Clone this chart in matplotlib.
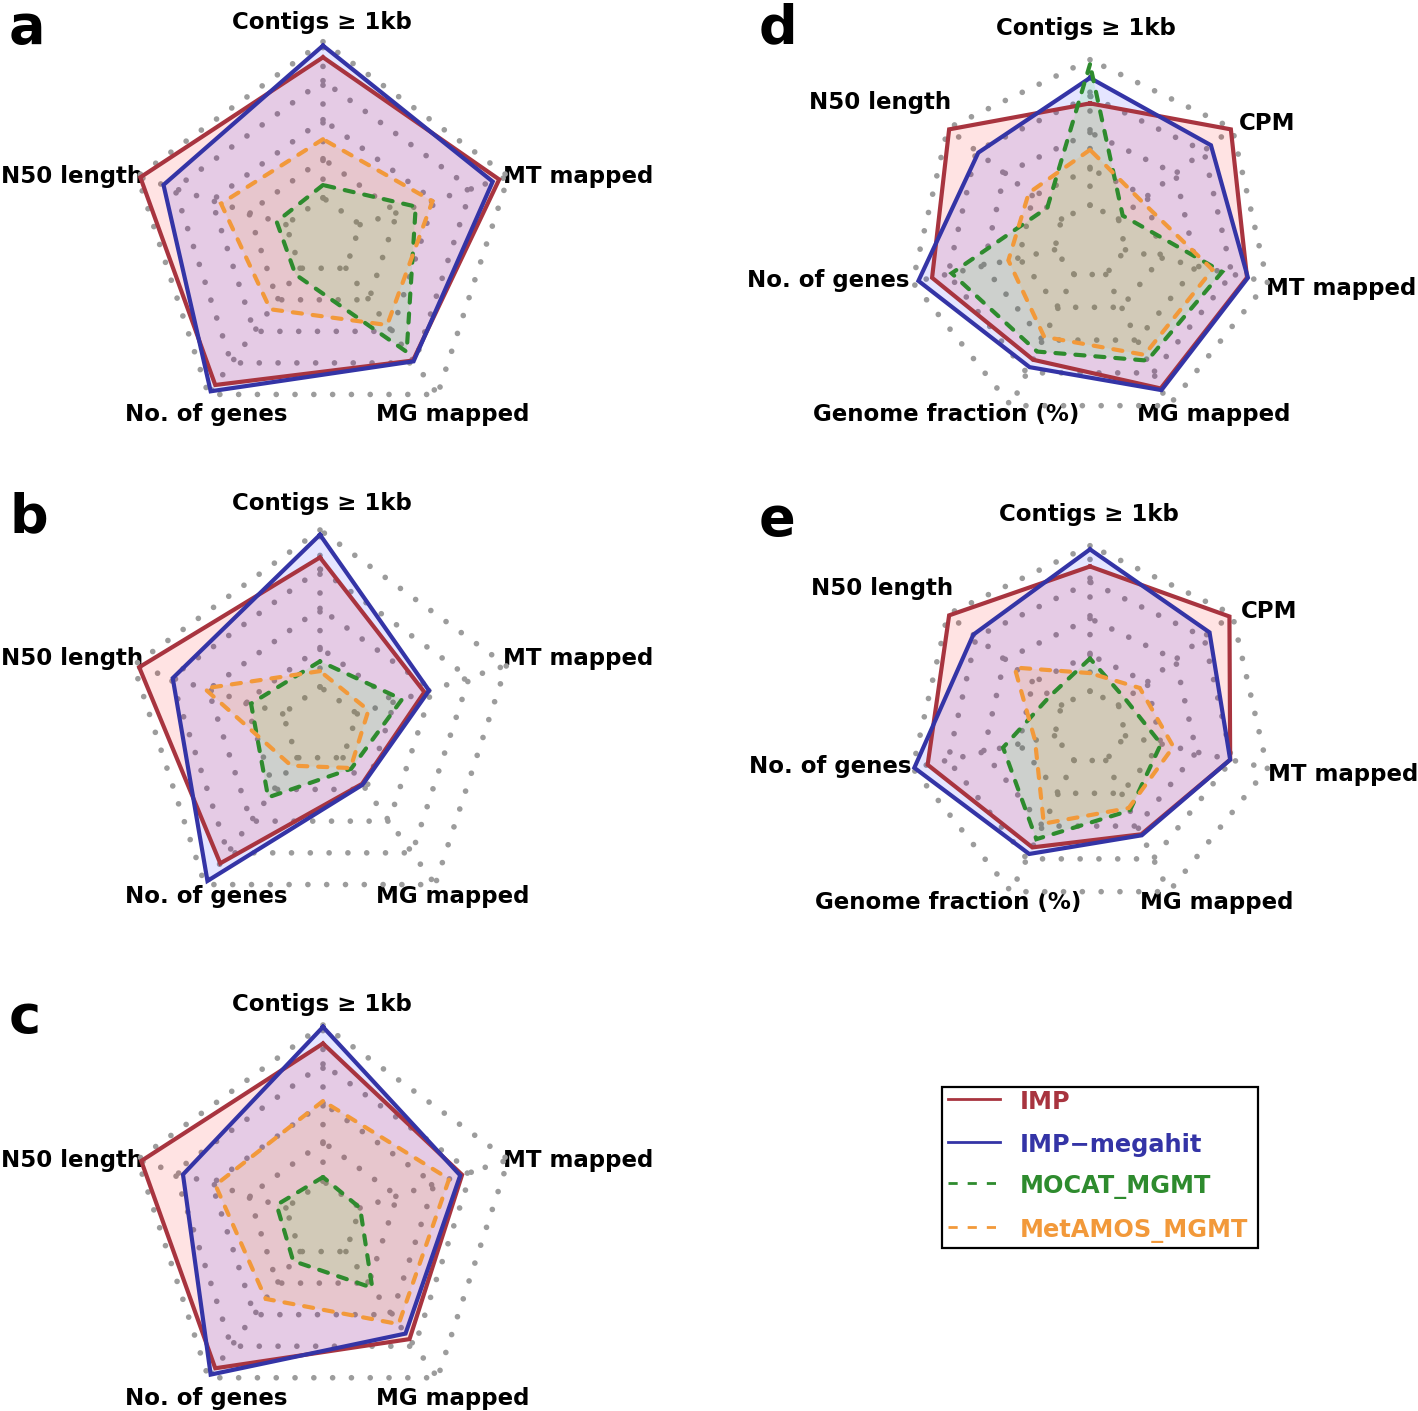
import numpy as np
import matplotlib
matplotlib.use("Agg")
import matplotlib.pyplot as plt
from matplotlib.patches import Rectangle

W, H = 1418, 1411

# ---------------- data (radius as fraction of outer grid ring, inner ring = 0.2) -------------
series_names = ["IMP", "IMP\u2212megahit", "MOCAT_MGMT", "MetAMOS_MGMT"]

axes5 = ["Contigs \u2265 1kb", "N50 length", "No. of genes", "MG mapped", "MT mapped"]
axes7 = ["Contigs \u2265 1kb", "N50 length", "No. of genes", "Genome fraction (%)",
         "MG mapped", "MT mapped", "CPM"]

# panel a  (order: Contigs, N50, No. genes, MG mapped, MT mapped)
a_IMP     = [0.92, 0.985, 0.94, 0.785, 0.95]
a_megahit = [0.98, 0.86, 0.98, 0.79, 0.915]
a_MOCAT   = [0.265, 0.25, 0.24, 0.73, 0.50]
a_MetAMOS = [0.50, 0.55, 0.46, 0.56, 0.59]

# panel b
b_IMP     = [0.86, 0.97, 0.866, 0.365, 0.56]
b_megahit = [0.976, 0.79, 0.977, 0.37, 0.585]
b_MOCAT   = [0.33, 0.37, 0.45, 0.27, 0.44]
b_MetAMOS = [0.28, 0.62, 0.25, 0.265, 0.26]

# panel c
c_IMP     = [0.905, 0.98, 0.94, 0.755, 0.75]
c_megahit = [0.99, 0.755, 0.98, 0.72, 0.74]
c_MOCAT   = [0.22, 0.25, 0.26, 0.43, 0.20]
c_MetAMOS = [0.61, 0.58, 0.50, 0.66, 0.68]

# panel d (order: Contigs, N50, No. genes, Genome fraction, MG mapped, MT mapped, CPM)
d_IMP     = [0.76, 0.99, 0.89, 0.72, 0.895, 0.885, 0.99]
d_megahit = [0.90, 0.785, 0.967, 0.765, 0.905, 0.89, 0.85]
d_MOCAT   = [0.975, 0.30, 0.78, 0.67, 0.725, 0.745, 0.23]
d_MetAMOS = [0.505, 0.43, 0.46, 0.58, 0.69, 0.69, 0.36]

# panel e
e_IMP     = [0.886, 0.99, 0.915, 0.73, 0.65, 0.79, 0.98]
e_megahit = [0.98, 0.82, 0.99, 0.77, 0.656, 0.79, 0.84]
e_MOCAT   = [0.38, 0.28, 0.49, 0.68, 0.505, 0.40, 0.25]
e_MetAMOS = [0.30, 0.53, 0.31, 0.585, 0.49, 0.47, 0.35]

# ---------------- styles ----------------
line_colors = ["#A8343F", "#3434A6", "#2E8B2E", "#F2993A"]
fill_colors = [(1, 0, 0, 0.11), (0, 0, 1, 0.10), (0, 1, 0, 0.10), (1, 0.62, 0, 0.10)]
dashed = [False, False, True, True]
FONT = ["DejaVu Sans"]

grid_kw = dict(color="#9c9c9c", lw=4.1, linestyle=(0, (0.001, 3.3)),
               dash_capstyle="round", solid_capstyle="round", zorder=1)

fig = plt.figure(figsize=(W / 100, H / 100), dpi=100)
ov = fig.add_axes([0, 0, 1, 1])
ov.set_xlim(0, W)
ov.set_ylim(H, 0)
ov.axis("off")


def radar(cx, cy, R, series):
    L = 1.25
    ax = fig.add_axes([(cx - L * R) / W, (H - cy - L * R) / H, 2 * L * R / W, 2 * L * R / H])
    ax.set_xlim(-L, L)
    ax.set_ylim(-L, L)
    ax.axis("off")
    n = len(series[0])
    theta = np.deg2rad(90 + 360.0 / n * np.arange(n))
    xx, yy = np.cos(theta), np.sin(theta)
    cx_ = np.append(xx, xx[0])
    cy_ = np.append(yy, yy[0])
    for k in range(1, 6):
        f = k / 5.0
        ax.plot(cx_ * f, cy_ * f, **grid_kw)
    for i in range(n):
        ax.plot([xx[i] * 0.2, xx[i]], [yy[i] * 0.2, yy[i]], **grid_kw)
    for vals, lc, fc, ds in zip(series, line_colors, fill_colors, dashed):
        r = np.asarray(vals)
        px, py = r * xx, r * yy
        ax.fill(px, py, color=fc, lw=0, zorder=2)
        kw = dict(color=lc, lw=3.0, zorder=3, solid_joinstyle="miter", dash_joinstyle="miter")
        if ds:
            kw["linestyle"] = (0, (2.2, 2.6))
            kw["dash_capstyle"] = "round"
        ax.plot(np.append(px, px[0]), np.append(py, py[0]), **kw)
    return ax


radar(323, 236.7, 195, [a_IMP, a_megahit, a_MOCAT, a_MetAMOS])
radar(320, 726, 196, [b_IMP, b_megahit, b_MOCAT, b_MetAMOS])
radar(323, 1220, 195, [c_IMP, c_megahit, c_MOCAT, c_MetAMOS])
radar(1090, 241.7, 182, [d_IMP, d_megahit, d_MOCAT, d_MetAMOS])
radar(1090, 727.7, 182, [e_IMP, e_megahit, e_MOCAT, e_MetAMOS])

lab_kw = dict(fontsize=16.5, fontweight="bold", family=FONT, va="baseline", color="black")

# axis labels for pentagon panels
for dy in (0, 481.5, 983):
    ov.text(322, 28.5 + dy, axes5[0], ha="center", **lab_kw)
    ov.text(1, 183.5 + dy, axes5[1], ha="left", **lab_kw)
    ov.text(206, 421.5 + dy, axes5[2], ha="center", **lab_kw)
    ov.text(453, 421.5 + dy, axes5[3], ha="center", **lab_kw)
    ov.text(503, 183.5 + dy, axes5[4], ha="left", **lab_kw)

# axis labels for heptagon panels
hept_pos = [(1086, 34.5), (880, 108.5), (828, 286.5), (946, 421.5),
            (1214, 421.5), (1341, 294.5), (1267, 130.5)]
for dy, dx in ((0, 0), (487, 2.5)):
    for name, (x, y) in zip(axes7, hept_pos):
        ov.text(x + dx, y + dy, name, ha="center", **lab_kw)

# panel letters
for letter, x, y in (("a", 9, 43), ("b", 9, 532), ("c", 9, 1033),
                     ("d", 759, 43), ("e", 759, 535)):
    ov.text(x, y, letter, fontsize=39, fontweight="bold", family=FONT,
            ha="left", va="baseline", color="black")

# legend
ov.add_patch(Rectangle((942, 1087), 316, 161, facecolor="white", edgecolor="black", lw=1.6, zorder=5))
leg_y = [1099, 1142, 1183, 1227]
for name, lc, ds, y in zip(series_names, line_colors, dashed, leg_y):
    kw = dict(color=lc, lw=2.0, zorder=6)
    if ds:
        kw["linestyle"] = (0, (3.3, 3.6))
    ov.plot([948, 1000], [y, y], **kw)
    ov.text(1020, y + 10, name, fontsize=17.3, fontweight="bold", family=FONT,
            color=lc, ha="left", va="baseline", zorder=6)

fig.savefig("out.png", dpi=100)
